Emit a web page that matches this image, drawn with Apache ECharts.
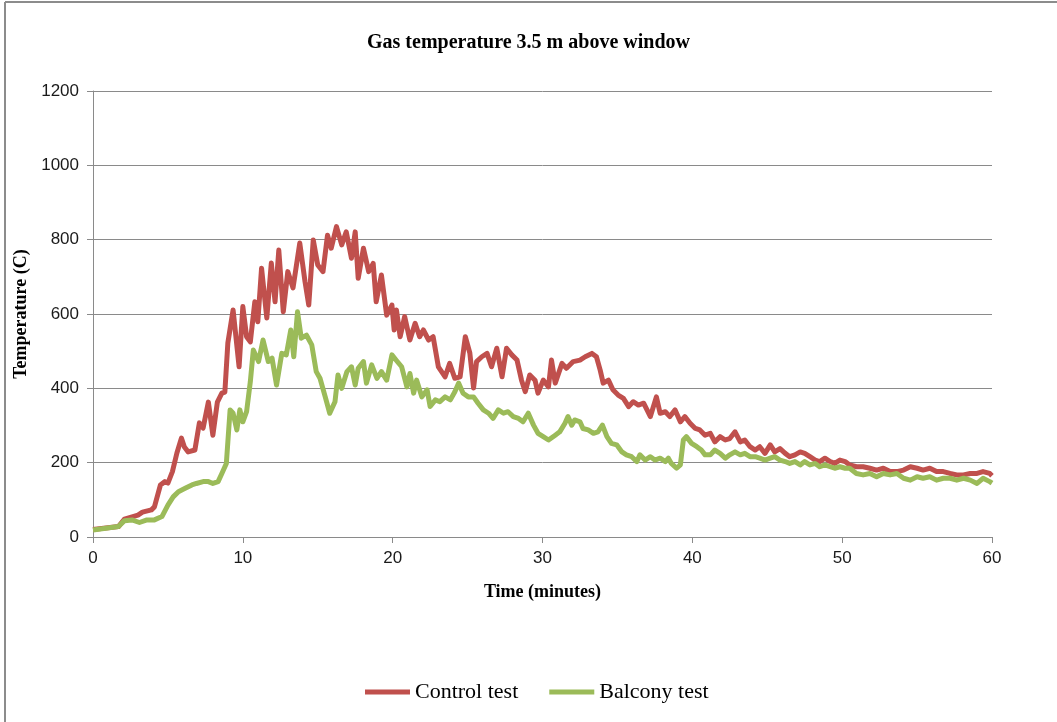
<!DOCTYPE html>
<html>
<head>
<meta charset="utf-8">
<script src="https://cdn.jsdelivr.net/npm/echarts@6/dist/echarts.min.js"></script>
<style>
html,body{margin:0;padding:0;background:#fff;}
#chart{width:1057px;height:722px;}
</style>
</head>
<body>
<div id="chart"></div>
<script>
var chartTitle = 'Gas temperature 3.5 m above window';
var xAxisName = 'Time (minutes)';
var yAxisName = 'Temperature (C)';
var seriesNames = ['Control test', 'Balcony test'];

var controlTime = [0,1.7,2.1,3.0,3.3,3.9,4.1,4.5,4.8,5.0,5.3,5.6,5.9,6.1,6.35,6.8,7.1,7.35,7.7,8.0,8.3,8.6,8.8,9.0,9.35,9.75,10.0,10.25,10.5,10.8,11.0,11.25,11.6,11.9,12.15,12.4,12.7,13.0,13.35,13.8,14.15,14.4,14.7,15.0,15.35,15.65,15.9,16.25,16.6,16.9,17.25,17.5,17.7,18.05,18.4,18.7,18.9,19.25,19.6,19.95,20.1,20.25,20.5,20.8,21.15,21.5,21.8,22.05,22.4,22.7,23.05,23.5,23.8,24.15,24.5,24.85,25.15,25.4,25.6,25.95,26.3,26.6,26.95,27.3,27.6,27.95,28.3,28.6,28.85,29.15,29.5,29.7,30.05,30.4,30.6,30.85,31.3,31.6,32.05,32.5,32.85,33.3,33.6,33.85,34.05,34.4,34.7,35.05,35.4,35.75,36.05,36.4,36.75,37.2,37.6,37.85,38.2,38.5,38.85,39.2,39.5,39.85,40.2,40.5,40.85,41.2,41.5,41.85,42.2,42.5,42.85,43.2,43.5,43.85,44.2,44.5,44.85,45.2,45.5,45.85,46.2,46.5,46.85,47.2,47.5,47.85,48.2,48.5,48.85,49.2,49.5,49.85,50.2,50.5,50.95,51.4,51.85,52.3,52.75,53.2,53.65,54.1,54.55,55.0,55.4,55.85,56.3,56.75,57.2,57.65,58.1,58.55,59.0,59.4,59.85,60];
var controlTemp = [20,28,48,59,67,73,81,140,149,145,176,226,266,242,229,234,307,293,363,274,363,387,390,522,611,458,620,539,525,633,579,723,589,737,633,772,606,714,670,791,687,624,799,732,714,812,777,835,786,821,750,821,696,777,714,736,633,705,597,624,557,611,539,593,530,575,539,557,530,539,458,431,467,427,431,539,495,401,472,485,494,458,508,431,508,490,476,422,391,436,422,387,422,404,476,414,467,454,472,476,485,494,485,449,414,422,396,382,373,351,364,355,360,324,377,333,337,324,342,310,324,306,292,288,274,279,256,270,261,265,283,256,261,243,234,243,225,248,229,238,225,216,221,229,225,216,207,203,212,203,198,207,203,194,189,189,185,180,185,176,176,180,189,185,180,185,176,176,171,167,167,171,171,176,171,165];

var balconyTime = [0,1.7,2.1,2.6,3.1,3.6,4.1,4.6,5.0,5.35,5.7,6.15,6.6,6.9,7.35,7.7,8.0,8.35,8.6,8.9,9.15,9.35,9.6,9.8,10.0,10.25,10.5,10.7,11.05,11.35,11.7,11.95,12.25,12.6,12.9,13.2,13.4,13.65,13.9,14.25,14.6,14.9,15.15,15.5,15.8,16.15,16.35,16.6,16.95,17.25,17.5,17.7,18.05,18.25,18.6,18.95,19.25,19.6,19.95,20.25,20.6,20.95,21.15,21.4,21.6,21.95,22.3,22.5,22.85,23.15,23.5,23.85,24.15,24.4,24.7,25.05,25.4,25.7,26.05,26.4,26.7,27.05,27.4,27.7,28.05,28.4,28.7,29.05,29.4,29.7,30.05,30.4,30.85,31.15,31.5,31.7,31.95,32.15,32.5,32.7,33.05,33.4,33.7,34.0,34.3,34.6,34.95,35.3,35.6,35.95,36.3,36.5,36.85,37.2,37.5,37.85,38.2,38.4,38.6,38.95,39.2,39.4,39.6,39.95,40.3,40.6,40.85,41.2,41.5,41.85,42.2,42.5,42.85,43.2,43.5,43.85,44.2,44.5,44.85,45.2,45.5,45.85,46.2,46.5,46.85,47.2,47.5,47.85,48.2,48.5,48.85,49.2,49.5,49.85,50.2,50.5,50.95,51.4,51.85,52.3,52.75,53.2,53.65,54.1,54.55,55.0,55.4,55.85,56.3,56.75,57.2,57.65,58.1,58.55,59.0,59.4,59.85,60];
var balconyTemp = [19,28,44,46,39,46,46,55,86,108,122,131,140,144,149,149,144,149,171,198,342,333,288,342,310,337,418,503,472,530,472,481,409,494,490,557,485,606,535,543,517,445,427,377,333,364,436,400,445,458,409,454,472,414,463,427,445,422,490,475,458,404,440,387,422,377,396,351,369,364,377,369,391,414,387,377,377,360,342,333,319,342,333,337,324,319,310,333,301,279,270,261,274,283,306,324,301,315,310,292,288,279,283,301,270,252,248,229,221,216,203,221,207,216,207,212,203,212,198,185,194,261,270,252,243,234,221,221,234,225,212,221,229,221,225,216,216,212,207,212,216,207,203,198,203,194,203,194,198,189,194,189,185,189,185,185,171,167,171,162,171,167,171,158,153,162,158,162,153,158,158,153,158,153,144,158,149,145];

var xTicks = {min: 0, max: 60, interval: 10};
var yTicks = {min: 0, max: 1200, interval: 200};

function pairs(ts, vs) { return ts.map(function (t, i) { return [t, vs[i]]; }); }

var chart = echarts.init(document.getElementById('chart'), null, {renderer: 'canvas'});
var axisGray = '#8a8a8a';
var serif = 'Liberation Serif, Times New Roman, serif';
var labelFont = {fontFamily: 'Liberation Sans, Arial, sans-serif', fontSize: 17, color: '#1a1a1a'};
chart.setOption({
  animation: false,
  backgroundColor: '#ffffff',
  title: {
    text: chartTitle, left: 'center', top: 28,
    textStyle: {fontFamily: serif, fontWeight: 'bold', fontSize: 20, color: '#000'}
  },
  graphic: [
    {type: 'line', shape: {x1: 5, y1: 2, x2: 1057, y2: 2}, style: {stroke: '#8c8c8c', lineWidth: 2}},
    {type: 'line', shape: {x1: 5, y1: 2, x2: 5, y2: 722}, style: {stroke: '#8c8c8c', lineWidth: 2}}
  ],
  grid: {left: 93, right: 65, top: 91, bottom: 185, containLabel: false},
  legend: {
    bottom: 19, left: 365, padding: 0, itemGap: 31, itemWidth: 45, itemHeight: 5, icon: 'rect',
    textStyle: {fontFamily: serif, fontSize: 22, color: '#000'},
    data: seriesNames
  },
  xAxis: {
    type: 'value', min: xTicks.min, max: xTicks.max, interval: xTicks.interval,
    name: xAxisName, nameLocation: 'middle', nameGap: 46,
    nameTextStyle: {fontFamily: serif, fontWeight: 'bold', fontSize: 18, color: '#000'},
    axisLine: {show: true, lineStyle: {color: axisGray, width: 1}},
    axisTick: {show: true, inside: false, length: 6, lineStyle: {color: axisGray}},
    axisLabel: Object.assign({margin: 13}, labelFont),
    splitLine: {show: false}
  },
  yAxis: {
    type: 'value', min: yTicks.min, max: yTicks.max, interval: yTicks.interval,
    name: yAxisName, nameLocation: 'middle', nameGap: 51, nameRotate: 90,
    nameTextStyle: {fontFamily: serif, fontWeight: 'bold', fontSize: 18, color: '#000'},
    axisLine: {show: true, lineStyle: {color: axisGray, width: 1}},
    axisTick: {show: true, inside: false, length: 6, lineStyle: {color: axisGray}},
    axisLabel: Object.assign({margin: 14, formatter: function (v) { return String(v); }}, labelFont),
    splitLine: {show: true, lineStyle: {color: axisGray, width: 1}}
  },
  series: [
    {name: seriesNames[0], type: 'line', data: pairs(controlTime, controlTemp), showSymbol: false, symbol: 'none',
     lineStyle: {color: '#c0504d', width: 5, join: 'round'}, itemStyle: {color: '#c0504d'}},
    {name: seriesNames[1], type: 'line', data: pairs(balconyTime, balconyTemp), showSymbol: false, symbol: 'none',
     lineStyle: {color: '#9bbb59', width: 5, join: 'round'}, itemStyle: {color: '#9bbb59'}}
  ]
});
</script>
</body>
</html>
